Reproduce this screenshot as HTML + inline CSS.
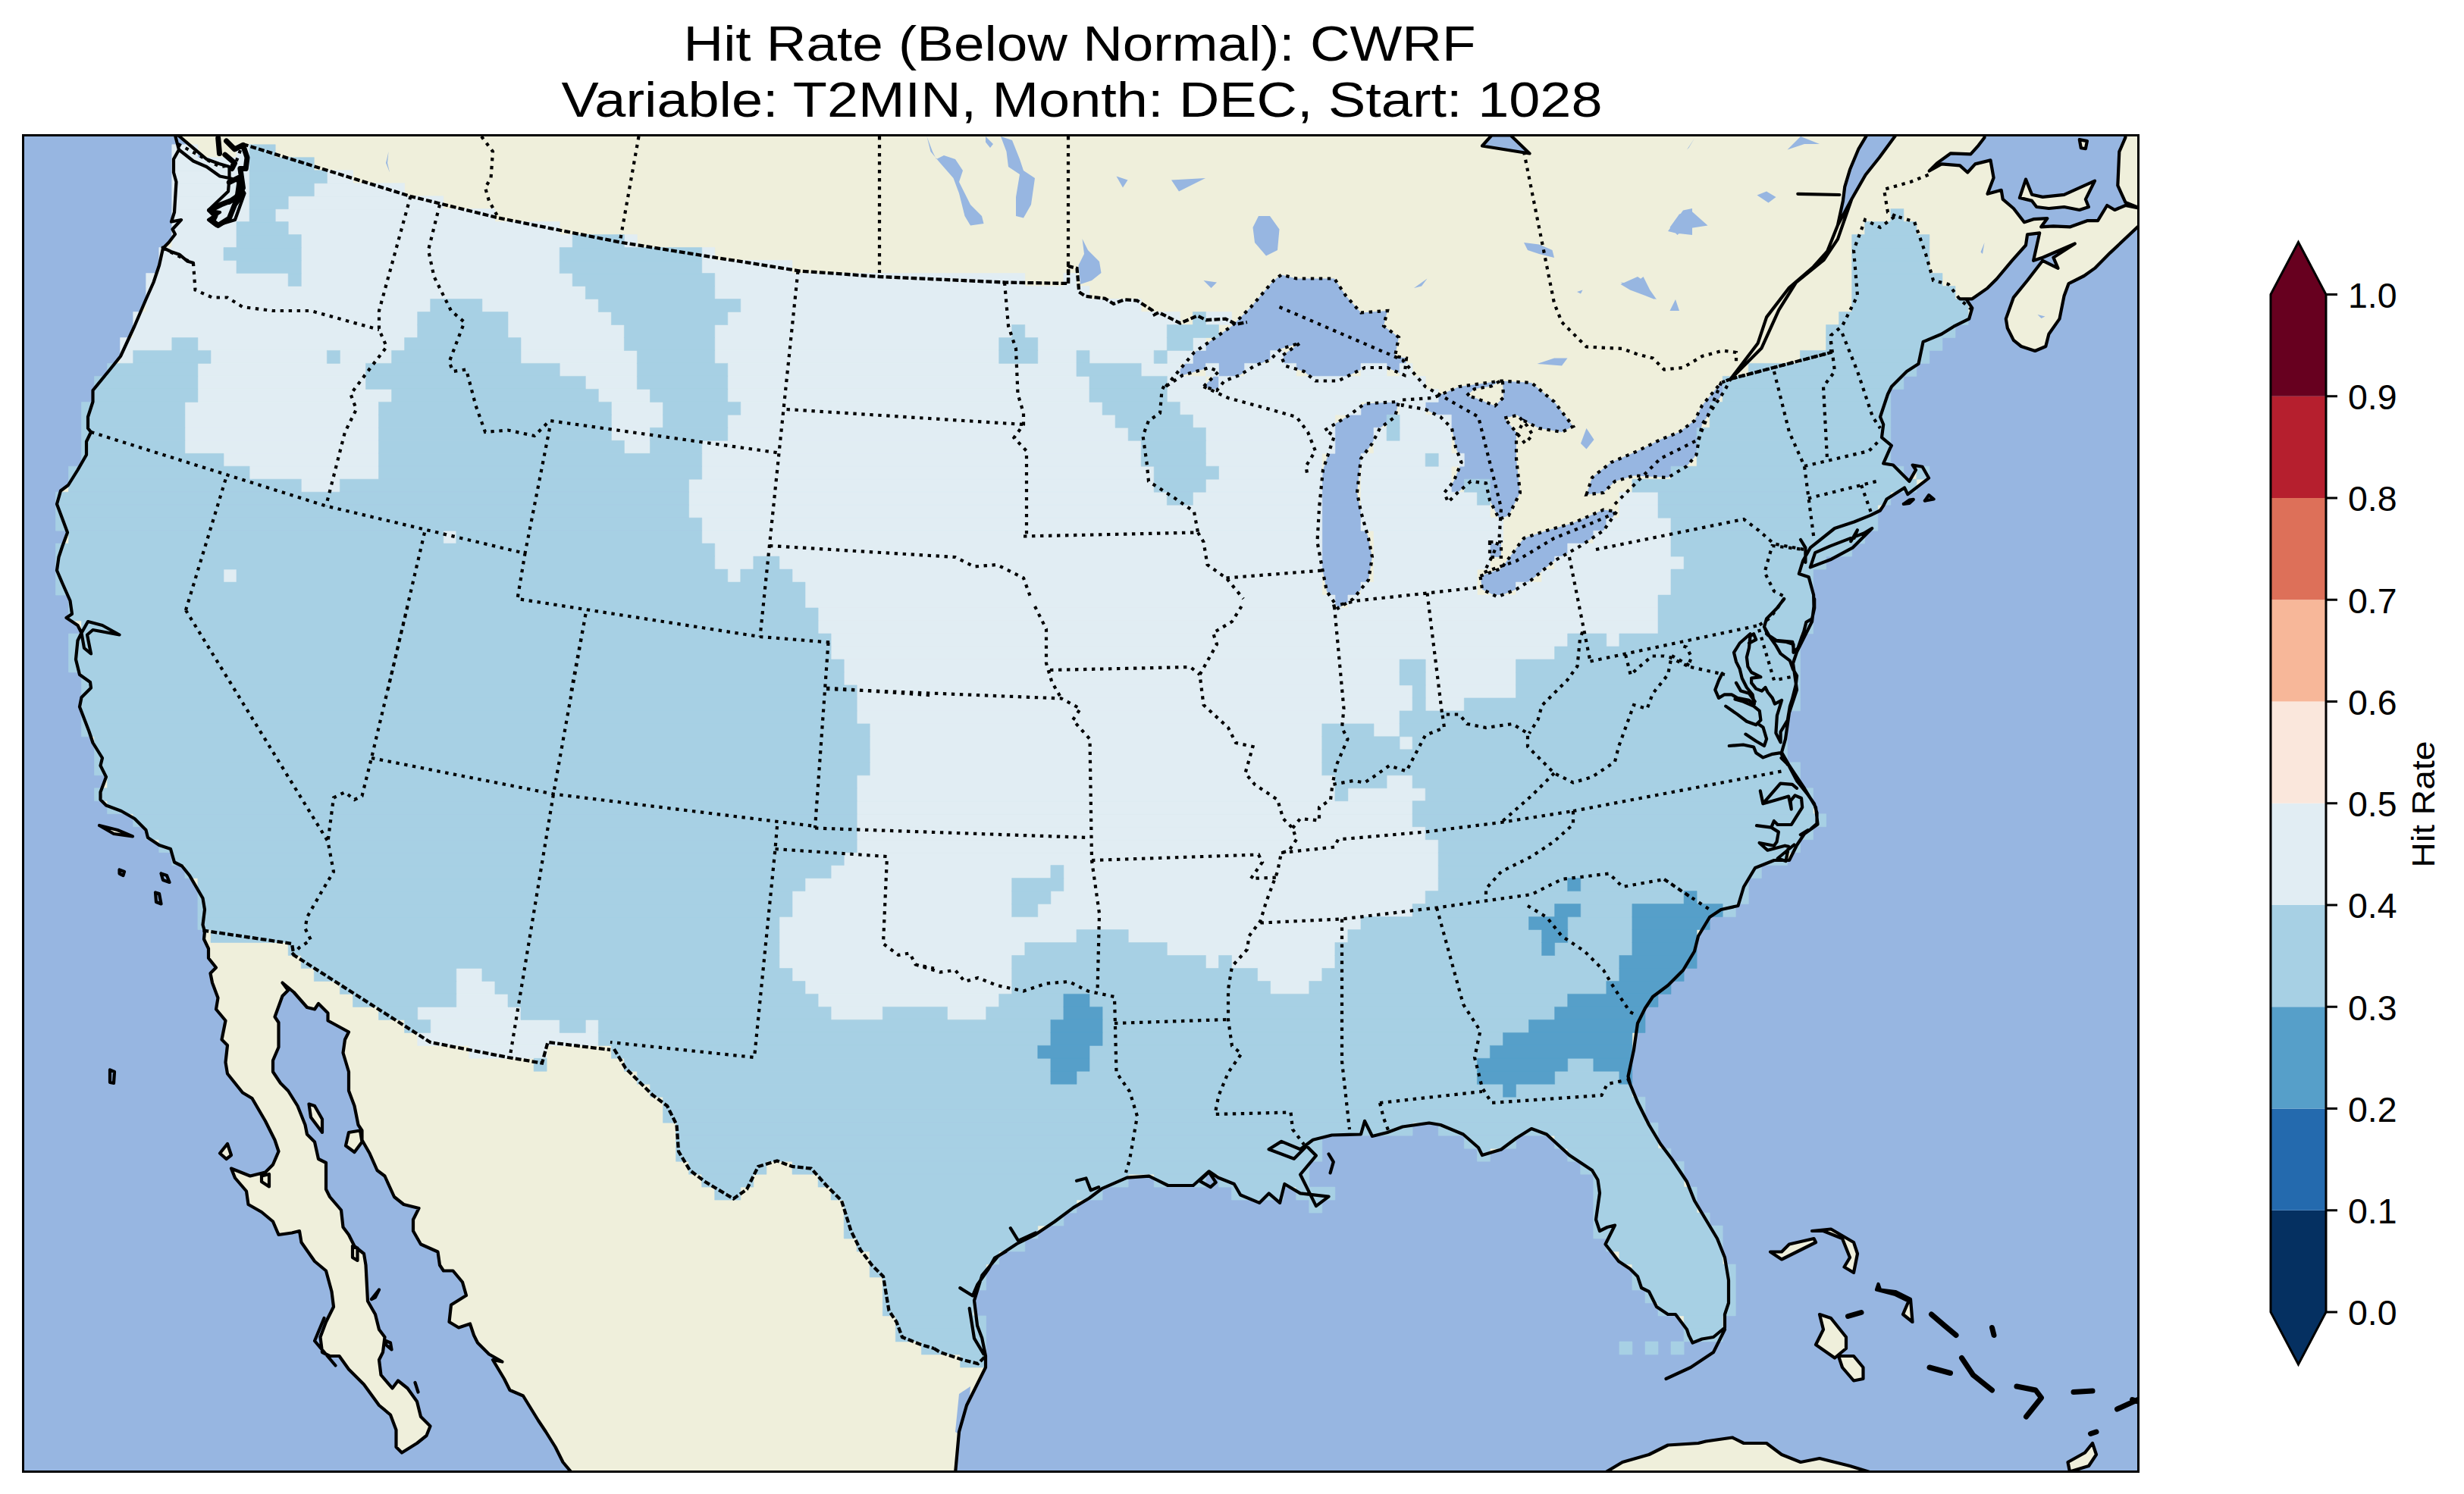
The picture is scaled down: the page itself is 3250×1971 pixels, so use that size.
<!DOCTYPE html>
<html><head><meta charset="utf-8">
<style>
html,body{margin:0;padding:0;background:#fff;width:3250px;height:1971px;overflow:hidden}
svg{position:absolute;left:0;top:0}
</style></head><body>
<svg width="3250" height="1971" viewBox="0 0 3250 1971">
<g font-family="Liberation Sans, sans-serif" fill="#000">
<text x="901.5" y="79.5" font-size="64" textLength="1045" lengthAdjust="spacingAndGlyphs">Hit Rate (Below Normal): CWRF</text>
<text x="740.5" y="154.2" font-size="64" textLength="1373" lengthAdjust="spacingAndGlyphs">Variable: T2MIN, Month: DEC, Start: 1028</text>
</g>
<rect x="30.5" y="178.5" width="2790" height="1763" fill="#97b6e1"/>
<defs><clipPath id="mc"><rect x="32" y="180" width="2787" height="1760"/></clipPath></defs>
<g clip-path="url(#mc)">
<path fill="#efefdb" d="M231,177 2822,177 2822,299 2819.6,299.3 2783.2,333.6 2763,353.9 2748.8,364 2728.6,374.1 2722.6,390.2 2716.5,420.6 2702.4,440.8 2698.3,457 2684.2,463 2666,457 2655.9,448.9 2647.8,432.7 2645.8,420.6 2655.9,392.3 2674.1,370 2694.3,343.8 2714.5,353.9 2708.4,339.7 2736.7,321.5 2694.3,339.7 2682.1,343.8 2690.2,307.4 2674.1,309.4 2672,323.5 2653.8,343.8 2633.6,368 2621.5,380.1 2601.3,394.3 2585.1,394.3 2593.2,394.3 2601.3,406.4 2597.2,420.6 2577,430.7 2560.9,440.8 2536.6,450.9 2530.5,480 2515,490 2495,510 2490,520 2480,550 2484.2,560 2482,577.1 2494.9,587.8 2492.7,592.1 2484.2,611.4 2497,613.5 2509.9,626.4 2518.4,634.9 2527,620 2522.7,613.5 2535.6,615.7 2544.1,630.7 2516.3,652.1 2512,643.5 2488.5,658.5 2484.2,667.1 2479.9,673.5 2467,679.9 2445.6,688.5 2419.9,697 2387.8,722.7 2378,740 2372.8,757 2385.7,761.3 2392.1,784.8 2392.5,800 2390,820 2380,840 2370,860 2365,875 2370,910 2360,940 2355,975 2350,992.5 2360,1010 2380,1040 2395,1065 2397.5,1087.5 2380,1100 2370,1115 2360,1135 2340,1135 2315,1145 2300,1170 2292.5,1195 2270,1200 2255,1210 2240,1235 2235,1255 2220,1280 2200,1300 2180,1315 2170,1330 2160,1350 2155,1385 2147.5,1420 2150,1430 2147.5,1424 2160,1454 2175,1484 2190,1509 2205,1529 2225,1559 2235,1584 2250,1609 2265,1634 2275,1659 2280,1689 2280,1719 2275,1734 2275,1751.5 2260,1764 2245,1766.5 2232.5,1771.5 2227.5,1761.5 2225,1754 2210,1734 2200,1734 2185,1724 2175,1704 2165,1699 2160,1684 2150,1674 2135,1664 2117.5,1641.5 2130,1616.5 2120,1619 2110,1624 2105,1609 2110,1574 2107.5,1556.5 2100,1544 2070,1524 2040,1496.5 2020,1489 2000,1501.5 1980,1516.5 1955,1524 1950,1514 1930,1496.5 1900,1484 1885,1481.5 1850,1486.5 1830,1494 1810,1499 1800,1479 1795,1496.5 1756.7,1497.5 1731.8,1503.8 1715.1,1516.3 1690.2,1505.9 1673.6,1516.3 1706.8,1528.7 1723.4,1512.1 1735.9,1524.6 1715.1,1549.5 1735.9,1591.1 1752.5,1578.6 1715.1,1574.4 1694.3,1562 1688.1,1586.9 1673.6,1574.4 1661.1,1586.9 1636.2,1576.5 1627.8,1562 1607.1,1553.7 1594.6,1545.3 1573.8,1564 1540.6,1564 1515.6,1551.6 1486.5,1553.7 1453.3,1568.2 1436.7,1580.7 1415.9,1593.1 1390.9,1611.8 1366,1628.5 1341.1,1640.9 1316.1,1657.6 1295.3,1682.5 1285,1715.8 1289.1,1749 1295.3,1765.6 1299.5,1786.4 1300,1789 1300,1804 1290,1824 1275,1854 1265,1889 1260,1944 1260,1943 755,1943 755,1944 742.5,1929 732.5,1909 720,1889 710,1874 690,1841.5 672.5,1834 665,1819 650,1794 662.5,1796.5 645,1786.5 630,1771.5 625,1761.5 620,1746.5 605,1751.5 592.5,1744 595,1721.5 615,1709 610,1691.5 597.5,1676.5 585,1676.5 580,1669 577.5,1651.5 555,1641.5 545,1624 545,1609 552.5,1594 532.5,1589 520,1579 507.5,1551.5 497.5,1544 487.5,1521.5 477.5,1504 477.5,1491.5 472.5,1484 467.5,1459 460,1439 460,1414 452.5,1389 455,1371.5 460,1361.5 432.5,1346.5 432.5,1336.5 420,1324 415,1331.5 405,1329 387.5,1309 372.5,1296.5 372.5,1296.5 380,1306.5 372.5,1314 362.5,1341.5 367.5,1349 367.5,1381.5 360,1399 360,1414 370,1429 380,1439 392.5,1459 402.5,1484 405,1496.5 415,1506.5 420,1529 430,1534 430,1569 435,1579 450,1596.5 452.5,1619 460,1629 467.5,1644 480,1654 482.5,1669 485,1716.5 495,1734 500,1754 507.5,1764 505,1784 500,1794 502.5,1814 517.5,1831.5 525,1821.5 537.5,1831.5 550,1849 555,1869 567.5,1881.5 562.5,1894 550,1904 530,1916.5 522.5,1909 522.5,1886.5 515,1866.5 500,1854 480,1826.5 460,1806.5 447.5,1789 435,1789 425,1784 422.5,1764 430,1744 440,1724 437.5,1704 430,1676.5 415,1664 397.5,1639 395,1624 385,1626.5 367.5,1629 360,1611.5 345,1599 327.5,1589 325,1571.5 310,1554 305,1541.5 330,1551.5 350,1546.5 360,1536.5 367.5,1519 362.5,1504 350,1479 332.5,1449 320,1441.5 300,1416.5 297.5,1401.5 300,1379 292.5,1371.5 297.5,1346.5 285,1331.5 287.5,1316.5 280,1296.5 277.5,1284 285,1276.5 275,1264 275,1251.5 269,1239 270,1229 267.5,1220 270,1200 267.5,1185 250,1155 240,1142.5 230,1137.5 225,1120 210,1115 195,1105 192.5,1095 177.5,1080 160,1070 140,1062.5 132.5,1055 132.5,1045 140,1025 132.5,1010 135,1000 122.5,980 117.5,965 105,932.5 107.5,920 120,907.5 119,900 105,890 100,870 102.5,845 107.5,835 102.5,825 87.5,815 95,810 92.5,792.5 82.5,770 75,752.5 77.5,735 82.5,720 89,702.5 82.5,685 75,665 80,647.5 90,640 102.5,620 114,600 114,582.5 120,570 116,565 116,550 122.5,530 122.5,515 145,487.5 159,470 177.5,430 192.5,395 202.5,372.5 210,350 215,327.5 222.5,320 231,309 227.5,302.5 239,290 226,292.5 230,280 232.5,240 229,227.5 229,210 236,197.5 231,178.5Z"/>
<path fill="#97b6e1" d="M2424,297 2430.9,265 2433.2,246.7 2440,223.8 2451.5,196.3 2465.2,173.4 2504.1,173.4 2478.9,207.8 2460.6,230.7 2442.3,262.7ZM2617.5,171.9 2803.4,171.9 2803.4,181.4 2795.3,200.2 2793.3,244.7 2803.4,266.9 2823.6,275 2803.4,271 2789.3,277 2779.2,271 2767,291.2 2752.9,291.2 2730.7,299.3 2708.4,298.3 2692.2,299.3 2700.3,288.2 2682.1,289.2 2670,293.2 2655.9,275 2641.7,262.9 2639.7,250.8 2621.5,255.8 2629.6,234.6 2625.5,211.4 2605.3,216.4 2595.2,227.5 2585.1,218.4 2560.9,216.4 2544.7,225.5 2554.8,215.4 2573,202.3 2599.3,203.3 2609.4,192.1 2617.5,181.4ZM1955,192.5 1967.5,178.5 1992.5,178.5 2017.5,202.5ZM231,178.5 235,178.5 272.5,210 289,216 302.5,220 302.5,235 290,232.5 272.5,220 255,212.5 236,197.5ZM302.5,235 312.5,237.5 322.5,255 310,290 285,297.5 275,290 290,280 275,277.5 280,272.5 301,252.5ZM107.5,835 116,820 135,825 157.5,837.5 122.5,831 115,837.5 120,862.5 111,855Z"/>
<path fill="#efefdb" d="M2663.9,260.9 2672,236.6 2680.1,256.8 2694.3,259.9 2722.6,256.8 2763,238.6 2750.9,262.9 2754.9,273 2742.8,277 2722.6,273 2702.4,275 2686.2,273 2680.1,264.9ZM2742.8,184.1 2752.9,186.1 2750.9,196.2 2744.8,195.2ZM2115,1944 2140,1929 2175,1919 2200,1906.5 2240,1904 2250,1901.5 2285,1896.5 2300,1904 2330,1904 2350,1919 2375,1929 2400,1924 2440,1934 2472.5,1944ZM2400,1734 2415,1739 2435,1764 2435,1779 2420,1791.5 2395,1774 2405,1754ZM2425,1789 2445,1789 2457.5,1804 2457.5,1819 2445,1821.5 2430,1804ZM2335,1651.5 2350,1661.5 2395,1639 2392.5,1634 2360,1641.5 2350,1651.5ZM2390,1624 2415,1621.5 2445,1639 2450,1654 2445,1679 2432.5,1671.5 2440,1659 2430,1634 2405,1624ZM2477.5,1694 2480,1701.5 2500,1704 2520,1714 2522.5,1744 2510,1734 2517.5,1716.5 2500,1708 2475,1701.5ZM2727.5,1929 2750,1916.5 2760,1904 2765,1919 2755,1934 2730,1941.5ZM131,1089 150,1100 175,1103.5 155,1095ZM290,1521.5 300,1509 305,1524 298.5,1529ZM407.5,1456.5 415,1459 425,1476.5 425,1494 410,1474ZM460,1494 475,1491.5 477.5,1506.5 467.5,1520 456,1511.5Z"/>
<path fill="#97b6e1" d="M1537.5,510 1575,465 1625,430 1650,405 1680,370 1690,362.5 1710,367.5 1760,367.5 1775,390 1795,412.5 1830,410 1825,430 1845,445 1840,470 1855,472.5 1852.5,495 1830,485 1800,485 1780,495 1765,502.5 1735,502.5 1720,490 1695,482.5 1690,470 1715,452.5 1690,460 1675,475 1655,482.5 1635,495 1615,502.5 1605,515 1587.5,510 1607.5,490 1595,485 1560,495ZM1747.5,567.5 1780,547.5 1800,532.5 1845,530 1840,550 1820,565 1810,585 1795,605 1790,650 1795,675 1805,710 1810,735 1805,765 1785,790 1765,802.5 1750,780 1745,755 1737.5,715 1740,670 1745,620 1760,575ZM1850,527.5 1890,525 1925,510 1980,502.5 2020,505 2050,530 2075,562.5 2060,570 2030,565 2010,555 2000,575 2000,605 2005,650 1990,680 1977.5,685 1965,660 1960,637.5 1940,635 1922.5,650 1910,662.5 1905,650 1917.5,635 1927.5,610 1920,590 1915,565 1900,550 1880,540 1850,535ZM1952.5,760 1980,750 2010,710 2040,700 2075,690 2115,672.5 2132.5,675 2115,700 2085,720 2050,740 2020,765 2000,777.5 1975,787.5 1955,777.5ZM1965,715 1980,715 1980,735 1965,735ZM2092.5,652.5 2100,630 2125,610 2160,595 2190,580 2215,570 2235,555 2245,535 2270,505 2282.5,500 2275,515 2245,560 2240,585 2237.5,600 2225,615 2200,630 2155,627.5 2130,635 2115,650ZM1222.5,180 1230,200 1235,210 1245,205 1260,210 1270,225 1265,240 1280,270 1295,285 1297.5,295 1280,297.5 1272.5,285 1265,255 1257.5,235 1240,215 1227.5,200ZM1320,180 1335,185 1345,210 1350,225 1365,235 1360,270 1350,287.5 1340,285 1340,260 1345,230 1330,220 1327.5,200ZM1300,180 1310,190 1306,195 1300,187.5ZM1427.5,315 1435,330 1450,345 1452.5,360 1440,370 1425,375 1422.5,350 1430,335ZM1660,285 1675,285 1687.5,302.5 1685,330 1670,337.5 1655,320 1652.5,300ZM1472.5,232.5 1487.5,237.5 1481,247.5ZM1545,237.5 1590,235 1555,252.5ZM1587.5,370 1605,372.5 1597.5,380ZM1865,380 1882.5,367.5 1875,377.5ZM2010,320 2030,322.5 2047.5,330 2050,340 2030,335 2015,330ZM2137.5,375 2160,365 2167.5,370 2185,395 2170,390 2150,382.5ZM2200,305 2220,277.5 2232,275 2232,310 2210,307.5ZM2027.5,480 2050,472.5 2067.5,472.5 2060,482.5ZM2085,585 2092.5,565 2102.5,580 2092.5,592.5ZM2317.5,257.5 2330,252.5 2342.5,260 2332.5,267.5ZM2202.5,300 2215,282.5 2230,277.5 2252.5,297.5 2220,302.5 2212.5,310ZM2137.5,372.5 2155,375 2167.5,365 2182.5,395 2170,390 2160,385ZM2202.5,410 2210,395 2215,410ZM2080,385 2087.5,382.5 2085,387.5ZM2687.5,415 2697.5,417.5 2692.5,420ZM2612.5,332.5 2617.5,320 2615,335ZM2357.5,197.5 2375,180 2400,190 2380,190ZM2225,197.5 2235,182.5 2227.5,195ZM512.5,200 509,215 514,227.5 511,215ZM1265,1839 1280,1829 1277.5,1864 1267.5,1894 1260,1889Z"/>
<path fill="#efefdb" d="M1934.8,521.8 1944.7,513.2 1967,509.4 1981.8,500.8 1983.1,524.3 1971.9,535.4 1947.2,525.5ZM1984.3,551.5 2001.7,547.8 2014,561.4 2021.5,573.8 2011.6,585 1996.7,566.4Z"/>
<path fill="#e1edf3" stroke="#e1edf3" stroke-width="0.6" d="M226.8 190.8H260.9V207.7H226.8ZM312 190.8H329.1V207.7H312ZM226.8 207.7H329.1V224.7H226.8ZM226.8 224.7H329.1V241.7H226.8ZM431.4 224.7H465.5V241.7H431.4ZM226.8 241.7H329.1V258.7H226.8ZM414.3 241.7H533.6V258.7H414.3ZM226.8 258.7H329.1V275.7H226.8ZM380.2 258.7H584.8V275.7H380.2ZM226.8 275.6H329.1V292.6H226.8ZM363.2 275.6H652.9V292.6H363.2ZM226.8 292.6H312V309.6H226.8ZM380.2 292.6H738.2V309.6H380.2ZM226.8 309.6H312V326.6H226.8ZM397.3 309.6H755.2V326.6H397.3ZM823.4 309.6H840.4V326.6H823.4ZM209.8 326.6H295V343.6H209.8ZM397.3 326.6H738.2V343.6H397.3ZM925.7 326.6H942.7V343.6H925.7ZM209.8 343.6H312V360.6H209.8ZM397.3 343.6H738.2V360.6H397.3ZM925.7 343.6H1045V360.6H925.7ZM192.7 360.6H380.2V377.5H192.7ZM397.3 360.6H755.2V377.5H397.3ZM942.7 360.6H1351.8V377.5H942.7ZM1402.9 360.6H1420V377.5H1402.9ZM192.7 377.5H772.3V394.5H192.7ZM942.7 377.5H1437V394.5H942.7ZM192.7 394.5H567.7V411.5H192.7ZM635.9 394.5H789.3V411.5H635.9ZM976.8 394.5H1505.2V411.5H976.8ZM175.7 411.5H550.7V428.5H175.7ZM670 411.5H806.4V428.5H670ZM959.8 411.5H1556.3V428.5H959.8ZM1590.4 411.5H1624.5V428.5H1590.4ZM175.7 428.5H550.7V445.5H175.7ZM670 428.5H823.4V445.5H670ZM942.7 428.5H1334.7V445.5H942.7ZM1351.8 428.5H1539.3V445.5H1351.8ZM158.6 445.5H226.8V462.4H158.6ZM260.9 445.5H533.6V462.4H260.9ZM687 445.5H823.4V462.4H687ZM942.7 445.5H1317.7V462.4H942.7ZM1368.8 445.5H1539.3V462.4H1368.8ZM1573.4 445.5H1590.4V462.4H1573.4ZM158.6 462.4H175.7V479.4H158.6ZM278 462.4H431.4V479.4H278ZM448.4 462.4H516.6V479.4H448.4ZM687 462.4H840.4V479.4H687ZM942.7 462.4H1317.7V479.4H942.7ZM1368.8 462.4H1420V479.4H1368.8ZM1437 462.4H1522.2V479.4H1437ZM1539.3 462.4H1573.4V479.4H1539.3ZM1675.6 462.4H1692.7V479.4H1675.6ZM260.9 479.4H482.5V496.4H260.9ZM738.2 479.4H840.4V496.4H738.2ZM959.8 479.4H1420V496.4H959.8ZM1505.2 479.4H1556.3V496.4H1505.2ZM1590.4 479.4H1607.5V496.4H1590.4ZM1641.6 479.4H1709.7V496.4H1641.6ZM1795 479.4H1829.1V496.4H1795ZM1846.1 479.4H1863.1V496.4H1846.1ZM260.9 496.4H482.5V513.4H260.9ZM772.3 496.4H840.4V513.4H772.3ZM959.8 496.4H1437V513.4H959.8ZM1539.3 496.4H1590.4V513.4H1539.3ZM1607.5 496.4H1880.2V513.4H1607.5ZM260.9 513.4H516.6V530.4H260.9ZM789.3 513.4H857.5V530.4H789.3ZM959.8 513.4H1437V530.4H959.8ZM1539.3 513.4H1897.2V530.4H1539.3ZM243.9 530.4H499.5V547.3H243.9ZM806.4 530.4H874.5V547.3H806.4ZM976.8 530.4H1454.1V547.3H976.8ZM1556.3 530.4H1795V547.3H1556.3ZM1846.1 530.4H1880.2V547.3H1846.1ZM243.9 547.3H499.5V564.3H243.9ZM806.4 547.3H874.5V564.3H806.4ZM959.8 547.3H1471.1V564.3H959.8ZM1573.4 547.3H1760.9V564.3H1573.4ZM1846.1 547.3H1914.3V564.3H1846.1ZM243.9 564.3H499.5V581.3H243.9ZM806.4 564.3H857.5V581.3H806.4ZM959.8 564.3H1488.2V581.3H959.8ZM1590.4 564.3H1760.9V581.3H1590.4ZM1812 564.3H1829.1V581.3H1812ZM1846.1 564.3H1914.3V581.3H1846.1ZM243.9 581.3H499.5V598.3H243.9ZM823.4 581.3H857.5V598.3H823.4ZM925.7 581.3H1505.2V598.3H925.7ZM1590.4 581.3H1760.9V598.3H1590.4ZM1812 581.3H1914.3V598.3H1812ZM295 598.3H499.5V615.2H295ZM925.7 598.3H1505.2V615.2H925.7ZM1590.4 598.3H1743.8V615.2H1590.4ZM1795 598.3H1880.2V615.2H1795ZM1897.2 598.3H1931.3V615.2H1897.2ZM329.1 615.2H499.5V632.2H329.1ZM925.7 615.2H1522.2V632.2H925.7ZM1607.5 615.2H1743.8V632.2H1607.5ZM1795 615.2H1914.3V632.2H1795ZM397.3 632.2H448.4V649.2H397.3ZM908.6 632.2H1522.2V649.2H908.6ZM1590.4 632.2H1743.8V649.2H1590.4ZM1795 632.2H1914.3V649.2H1795ZM908.6 649.2H1539.3V666.2H908.6ZM1573.4 649.2H1743.8V666.2H1573.4ZM1795 649.2H1948.4V666.2H1795ZM2135.9 649.2H2187V666.2H2135.9ZM908.6 666.2H1743.8V683.2H908.6ZM1795 666.2H1965.4V683.2H1795ZM2135.9 666.2H2187V683.2H2135.9ZM925.7 683.2H1743.8V700.2H925.7ZM1795 683.2H1982.5V700.2H1795ZM2118.8 683.2H2204V700.2H2118.8ZM584.8 700.2H601.8V717.1H584.8ZM925.7 700.2H1743.8V717.1H925.7ZM1812 700.2H1982.5V717.1H1812ZM2101.8 700.2H2204V717.1H2101.8ZM942.7 717.1H1743.8V734.1H942.7ZM1812 717.1H1965.4V734.1H1812ZM2067.7 717.1H2204V734.1H2067.7ZM942.7 734.1H993.8V751.1H942.7ZM1027.9 734.1H1743.8V751.1H1027.9ZM1812 734.1H1965.4V751.1H1812ZM2050.6 734.1H2221.1V751.1H2050.6ZM295 751.1H312V768.1H295ZM959.8 751.1H976.8V768.1H959.8ZM1045 751.1H1743.8V768.1H1045ZM1812 751.1H1948.4V768.1H1812ZM2033.6 751.1H2204V768.1H2033.6ZM1062 768.1H1743.8V785.1H1062ZM1795 768.1H1948.4V785.1H1795ZM1999.5 768.1H2204V785.1H1999.5ZM1062 785.1H1760.9V802H1062ZM1777.9 785.1H2187V802H1777.9ZM1079.1 802H2187V819H1079.1ZM1079.1 819H2187V836H1079.1ZM1096.1 836H2067.7V853H1096.1ZM2118.8 836H2135.9V853H2118.8ZM1096.1 853H2050.6V870H1096.1ZM1113.2 870H1846.1V886.9H1113.2ZM1880.2 870H1999.5V886.9H1880.2ZM1113.2 886.9H1846.1V903.9H1113.2ZM1880.2 886.9H1999.5V903.9H1880.2ZM1130.2 903.9H1863.1V920.9H1130.2ZM1880.2 903.9H1999.5V920.9H1880.2ZM1130.2 920.9H1863.1V937.9H1130.2ZM1880.2 920.9H1931.3V937.9H1880.2ZM1130.2 937.9H1846.1V954.9H1130.2ZM1147.2 954.9H1743.8V971.8H1147.2ZM1812 954.9H1846.1V971.8H1812ZM1147.2 971.8H1743.8V988.8H1147.2ZM1846.1 971.8H1863.1V988.8H1846.1ZM1147.2 988.8H1743.8V1005.8H1147.2ZM1147.2 1005.8H1743.8V1022.8H1147.2ZM1130.2 1022.8H1760.9V1039.8H1130.2ZM1829.1 1022.8H1863.1V1039.8H1829.1ZM1130.2 1039.8H1760.9V1056.7H1130.2ZM1777.9 1039.8H1880.2V1056.7H1777.9ZM1130.2 1056.7H1863.1V1073.7H1130.2ZM1130.2 1073.7H1863.1V1090.7H1130.2ZM1130.2 1090.7H1880.2V1107.7H1130.2ZM1130.2 1107.7H1897.2V1124.7H1130.2ZM1113.2 1124.7H1897.2V1141.6H1113.2ZM1096.1 1141.6H1385.9V1158.6H1096.1ZM1402.9 1141.6H1897.2V1158.6H1402.9ZM1062 1158.6H1334.7V1175.6H1062ZM1402.9 1158.6H1897.2V1175.6H1402.9ZM1045 1175.6H1334.7V1192.6H1045ZM1385.9 1175.6H1880.2V1192.6H1385.9ZM1045 1192.6H1334.7V1209.6H1045ZM1368.8 1192.6H1863.1V1209.6H1368.8ZM1027.9 1209.6H1795V1226.5H1027.9ZM1027.9 1226.5H1420V1243.5H1027.9ZM1488.2 1226.5H1777.9V1243.5H1488.2ZM1027.9 1243.5H1351.8V1260.5H1027.9ZM1539.3 1243.5H1760.9V1260.5H1539.3ZM1027.9 1260.5H1334.7V1277.5H1027.9ZM1590.4 1260.5H1607.5V1277.5H1590.4ZM1624.5 1260.5H1760.9V1277.5H1624.5ZM601.8 1277.5H635.9V1294.5H601.8ZM1045 1277.5H1334.7V1294.5H1045ZM1658.6 1277.5H1743.8V1294.5H1658.6ZM601.8 1294.5H652.9V1311.4H601.8ZM1062 1294.5H1334.7V1311.4H1062ZM1675.6 1294.5H1726.8V1311.4H1675.6ZM601.8 1311.4H670V1328.4H601.8ZM1079.1 1311.4H1317.7V1328.4H1079.1ZM550.7 1328.4H687V1345.4H550.7ZM1096.1 1328.4H1164.3V1345.4H1096.1ZM1249.5 1328.4H1300.7V1345.4H1249.5ZM567.7 1345.4H738.2V1362.4H567.7ZM772.3 1345.4H789.3V1362.4H772.3ZM550.7 1362.4H789.3V1379.4H550.7ZM618.9 1379.4H721.1V1396.3H618.9Z"/>
<path fill="#a7d0e4" stroke="#a7d0e4" stroke-width="0.6" d="M329.1 190.8H363.2V207.7H329.1ZM329.1 207.7H414.3V224.7H329.1ZM329.1 224.7H431.4V241.7H329.1ZM329.1 241.7H414.3V258.7H329.1ZM329.1 258.7H380.2V275.7H329.1ZM329.1 275.6H363.2V292.6H329.1ZM2493.8 275.6H2510.9V292.6H2493.8ZM312 292.6H380.2V309.6H312ZM2459.7 292.6H2527.9V309.6H2459.7ZM312 309.6H397.3V326.6H312ZM755.2 309.6H823.4V326.6H755.2ZM2442.7 309.6H2544.9V326.6H2442.7ZM295 326.6H397.3V343.6H295ZM738.2 326.6H925.7V343.6H738.2ZM2442.7 326.6H2544.9V343.6H2442.7ZM312 343.6H397.3V360.6H312ZM738.2 343.6H925.7V360.6H738.2ZM2442.7 343.6H2544.9V360.6H2442.7ZM380.2 360.6H397.3V377.5H380.2ZM755.2 360.6H942.7V377.5H755.2ZM2442.7 360.6H2562V377.5H2442.7ZM772.3 377.5H942.7V394.5H772.3ZM2442.7 377.5H2579V394.5H2442.7ZM567.7 394.5H635.9V411.5H567.7ZM789.3 394.5H976.8V411.5H789.3ZM2442.7 394.5H2596.1V411.5H2442.7ZM550.7 411.5H670V428.5H550.7ZM806.4 411.5H959.8V428.5H806.4ZM1573.4 411.5H1590.4V428.5H1573.4ZM2425.6 411.5H2596.1V428.5H2425.6ZM550.7 428.5H670V445.5H550.7ZM823.4 428.5H942.7V445.5H823.4ZM1334.7 428.5H1351.8V445.5H1334.7ZM1539.3 428.5H1607.5V445.5H1539.3ZM2408.6 428.5H2579V445.5H2408.6ZM226.8 445.5H260.9V462.4H226.8ZM533.6 445.5H687V462.4H533.6ZM823.4 445.5H942.7V462.4H823.4ZM1317.7 445.5H1368.8V462.4H1317.7ZM1539.3 445.5H1573.4V462.4H1539.3ZM2408.6 445.5H2562V462.4H2408.6ZM175.7 462.4H278V479.4H175.7ZM431.4 462.4H448.4V479.4H431.4ZM516.6 462.4H687V479.4H516.6ZM840.4 462.4H942.7V479.4H840.4ZM1317.7 462.4H1368.8V479.4H1317.7ZM1420 462.4H1437V479.4H1420ZM1522.2 462.4H1539.3V479.4H1522.2ZM2374.5 462.4H2544.9V479.4H2374.5ZM141.6 479.4H260.9V496.4H141.6ZM482.5 479.4H738.2V496.4H482.5ZM840.4 479.4H959.8V496.4H840.4ZM1420 479.4H1505.2V496.4H1420ZM2306.3 479.4H2527.9V496.4H2306.3ZM124.5 496.4H260.9V513.4H124.5ZM482.5 496.4H772.3V513.4H482.5ZM840.4 496.4H959.8V513.4H840.4ZM1437 496.4H1539.3V513.4H1437ZM2272.2 496.4H2510.9V513.4H2272.2ZM124.5 513.4H260.9V530.4H124.5ZM516.6 513.4H789.3V530.4H516.6ZM857.5 513.4H959.8V530.4H857.5ZM1437 513.4H1539.3V530.4H1437ZM2272.2 513.4H2493.8V530.4H2272.2ZM107.5 530.4H243.9V547.3H107.5ZM499.5 530.4H806.4V547.3H499.5ZM874.5 530.4H976.8V547.3H874.5ZM1454.1 530.4H1556.3V547.3H1454.1ZM2255.2 530.4H2493.8V547.3H2255.2ZM107.5 547.3H243.9V564.3H107.5ZM499.5 547.3H806.4V564.3H499.5ZM874.5 547.3H959.8V564.3H874.5ZM1471.1 547.3H1573.4V564.3H1471.1ZM1829.1 547.3H1846.1V564.3H1829.1ZM2255.2 547.3H2493.8V564.3H2255.2ZM107.5 564.3H243.9V581.3H107.5ZM499.5 564.3H806.4V581.3H499.5ZM857.5 564.3H959.8V581.3H857.5ZM1488.2 564.3H1590.4V581.3H1488.2ZM1829.1 564.3H1846.1V581.3H1829.1ZM2238.1 564.3H2493.8V581.3H2238.1ZM107.5 581.3H243.9V598.3H107.5ZM499.5 581.3H823.4V598.3H499.5ZM857.5 581.3H925.7V598.3H857.5ZM1505.2 581.3H1590.4V598.3H1505.2ZM2238.1 581.3H2493.8V598.3H2238.1ZM107.5 598.3H295V615.2H107.5ZM499.5 598.3H925.7V615.2H499.5ZM1505.2 598.3H1590.4V615.2H1505.2ZM1880.2 598.3H1897.2V615.2H1880.2ZM2238.1 598.3H2493.8V615.2H2238.1ZM90.5 615.2H329.1V632.2H90.5ZM499.5 615.2H925.7V632.2H499.5ZM1522.2 615.2H1607.5V632.2H1522.2ZM2204 615.2H2510.9V632.2H2204ZM2527.9 615.2H2544.9V632.2H2527.9ZM90.5 632.2H397.3V649.2H90.5ZM448.4 632.2H908.6V649.2H448.4ZM1522.2 632.2H1590.4V649.2H1522.2ZM1931.3 632.2H1965.4V649.2H1931.3ZM2152.9 632.2H2527.9V649.2H2152.9ZM73.4 649.2H908.6V666.2H73.4ZM1539.3 649.2H1573.4V666.2H1539.3ZM1948.4 649.2H1965.4V666.2H1948.4ZM2187 649.2H2493.8V666.2H2187ZM73.4 666.2H908.6V683.2H73.4ZM2187 666.2H2476.8V683.2H2187ZM73.4 683.2H925.7V700.2H73.4ZM2204 683.2H2476.8V700.2H2204ZM90.5 700.2H584.8V717.1H90.5ZM601.8 700.2H925.7V717.1H601.8ZM2204 700.2H2459.7V717.1H2204ZM73.4 717.1H942.7V734.1H73.4ZM2204 717.1H2442.7V734.1H2204ZM73.4 734.1H942.7V751.1H73.4ZM993.8 734.1H1027.9V751.1H993.8ZM2221.1 734.1H2408.6V751.1H2221.1ZM73.4 751.1H295V768.1H73.4ZM312 751.1H959.8V768.1H312ZM976.8 751.1H1045V768.1H976.8ZM2204 751.1H2391.5V768.1H2204ZM73.4 768.1H1062V785.1H73.4ZM2204 768.1H2391.5V785.1H2204ZM90.5 785.1H1062V802H90.5ZM2187 785.1H2391.5V802H2187ZM90.5 802H1079.1V819H90.5ZM2187 802H2391.5V819H2187ZM107.5 819H1079.1V836H107.5ZM2187 819H2391.5V836H2187ZM90.5 836H1096.1V853H90.5ZM2067.7 836H2118.8V853H2067.7ZM2135.9 836H2374.5V853H2135.9ZM90.5 853H1096.1V870H90.5ZM2050.6 853H2374.5V870H2050.6ZM90.5 870H1113.2V886.9H90.5ZM1846.1 870H1880.2V886.9H1846.1ZM1999.5 870H2374.5V886.9H1999.5ZM107.5 886.9H1113.2V903.9H107.5ZM1846.1 886.9H1880.2V903.9H1846.1ZM1999.5 886.9H2374.5V903.9H1999.5ZM107.5 903.9H1130.2V920.9H107.5ZM1863.1 903.9H1880.2V920.9H1863.1ZM1999.5 903.9H2374.5V920.9H1999.5ZM107.5 920.9H1130.2V937.9H107.5ZM1863.1 920.9H1880.2V937.9H1863.1ZM1931.3 920.9H2374.5V937.9H1931.3ZM107.5 937.9H1130.2V954.9H107.5ZM1846.1 937.9H2357.4V954.9H1846.1ZM107.5 954.9H1147.2V971.8H107.5ZM1743.8 954.9H1812V971.8H1743.8ZM1846.1 954.9H2357.4V971.8H1846.1ZM124.5 971.8H1147.2V988.8H124.5ZM1743.8 971.8H1846.1V988.8H1743.8ZM1863.1 971.8H2357.4V988.8H1863.1ZM124.5 988.8H1147.2V1005.8H124.5ZM1743.8 988.8H2357.4V1005.8H1743.8ZM124.5 1005.8H1147.2V1022.8H124.5ZM1743.8 1005.8H2374.5V1022.8H1743.8ZM141.6 1022.8H1130.2V1039.8H141.6ZM1760.9 1022.8H1829.1V1039.8H1760.9ZM1863.1 1022.8H2374.5V1039.8H1863.1ZM124.5 1039.8H1130.2V1056.7H124.5ZM1760.9 1039.8H1777.9V1056.7H1760.9ZM1880.2 1039.8H2391.5V1056.7H1880.2ZM141.6 1056.7H1130.2V1073.7H141.6ZM1863.1 1056.7H2391.5V1073.7H1863.1ZM175.7 1073.7H1130.2V1090.7H175.7ZM1863.1 1073.7H2408.6V1090.7H1863.1ZM192.7 1090.7H1130.2V1107.7H192.7ZM1880.2 1090.7H2391.5V1107.7H1880.2ZM209.8 1107.7H1130.2V1124.7H209.8ZM1897.2 1107.7H2374.5V1124.7H1897.2ZM226.8 1124.7H1113.2V1141.6H226.8ZM1897.2 1124.7H2357.4V1141.6H1897.2ZM243.9 1141.6H1096.1V1158.6H243.9ZM1385.9 1141.6H1402.9V1158.6H1385.9ZM1897.2 1141.6H2323.4V1158.6H1897.2ZM260.9 1158.6H1062V1175.6H260.9ZM1334.7 1158.6H1402.9V1175.6H1334.7ZM1897.2 1158.6H2067.7V1175.6H1897.2ZM2084.7 1158.6H2306.3V1175.6H2084.7ZM260.9 1175.6H1045V1192.6H260.9ZM1334.7 1175.6H1385.9V1192.6H1334.7ZM1880.2 1175.6H2221.1V1192.6H1880.2ZM2238.1 1175.6H2306.3V1192.6H2238.1ZM260.9 1192.6H1045V1209.6H260.9ZM1334.7 1192.6H1368.8V1209.6H1334.7ZM1863.1 1192.6H2050.6V1209.6H1863.1ZM2084.7 1192.6H2152.9V1209.6H2084.7ZM2272.2 1192.6H2289.3V1209.6H2272.2ZM260.9 1209.6H1027.9V1226.5H260.9ZM1795 1209.6H2016.5V1226.5H1795ZM2067.7 1209.6H2152.9V1226.5H2067.7ZM278 1226.5H1027.9V1243.5H278ZM1420 1226.5H1488.2V1243.5H1420ZM1777.9 1226.5H2033.6V1243.5H1777.9ZM2067.7 1226.5H2152.9V1243.5H2067.7ZM380.2 1243.5H1027.9V1260.5H380.2ZM1351.8 1243.5H1539.3V1260.5H1351.8ZM1760.9 1243.5H2033.6V1260.5H1760.9ZM2050.6 1243.5H2152.9V1260.5H2050.6ZM397.3 1260.5H1027.9V1277.5H397.3ZM1334.7 1260.5H1590.4V1277.5H1334.7ZM1607.5 1260.5H1624.5V1277.5H1607.5ZM1760.9 1260.5H2135.9V1277.5H1760.9ZM414.3 1277.5H601.8V1294.5H414.3ZM635.9 1277.5H1045V1294.5H635.9ZM1334.7 1277.5H1658.6V1294.5H1334.7ZM1743.8 1277.5H2135.9V1294.5H1743.8ZM448.4 1294.5H601.8V1311.4H448.4ZM652.9 1294.5H1062V1311.4H652.9ZM1334.7 1294.5H1675.6V1311.4H1334.7ZM1726.8 1294.5H2118.8V1311.4H1726.8ZM465.5 1311.4H601.8V1328.4H465.5ZM670 1311.4H1079.1V1328.4H670ZM1317.7 1311.4H1402.9V1328.4H1317.7ZM1437 1311.4H2067.7V1328.4H1437ZM499.5 1328.4H550.7V1345.4H499.5ZM687 1328.4H1096.1V1345.4H687ZM1164.3 1328.4H1249.5V1345.4H1164.3ZM1300.7 1328.4H1402.9V1345.4H1300.7ZM1454.1 1328.4H2050.6V1345.4H1454.1ZM533.6 1345.4H567.7V1362.4H533.6ZM738.2 1345.4H772.3V1362.4H738.2ZM789.3 1345.4H1385.9V1362.4H789.3ZM1454.1 1345.4H2016.5V1362.4H1454.1ZM789.3 1362.4H1385.9V1379.4H789.3ZM1454.1 1362.4H1982.5V1379.4H1454.1ZM806.4 1379.4H1368.8V1396.3H806.4ZM1437 1379.4H1965.4V1396.3H1437ZM704.1 1396.3H721.1V1413.3H704.1ZM823.4 1396.3H1385.9V1413.3H823.4ZM1437 1396.3H1948.4V1413.3H1437ZM2067.7 1396.3H2101.8V1413.3H2067.7ZM840.4 1413.3H1385.9V1430.3H840.4ZM1420 1413.3H1948.4V1430.3H1420ZM2050.6 1413.3H2135.9V1430.3H2050.6ZM857.5 1430.3H1982.5V1447.3H857.5ZM1999.5 1430.3H2152.9V1447.3H1999.5ZM874.5 1447.3H2170V1464.2H874.5ZM874.5 1464.2H2170V1481.2H874.5ZM891.6 1481.2H1863.1V1498.2H891.6ZM1897.2 1481.2H2187V1498.2H1897.2ZM891.6 1498.2H1743.8V1515.2H891.6ZM1931.3 1498.2H1999.5V1515.2H1931.3ZM2050.6 1498.2H2187V1515.2H2050.6ZM891.6 1515.2H1743.8V1532.2H891.6ZM1948.4 1515.2H1965.4V1532.2H1948.4ZM2067.7 1515.2H2204V1532.2H2067.7ZM908.6 1532.2H1010.9V1549.2H908.6ZM1045 1532.2H1726.8V1549.2H1045ZM2084.7 1532.2H2221.1V1549.2H2084.7ZM925.7 1549.2H993.8V1566.1H925.7ZM1079.1 1549.2H1488.2V1566.1H1079.1ZM1522.2 1549.2H1590.4V1566.1H1522.2ZM1607.5 1549.2H1726.8V1566.1H1607.5ZM2101.8 1549.2H2221.1V1566.1H2101.8ZM942.7 1566.1H976.8V1583.1H942.7ZM1096.1 1566.1H1454.1V1583.1H1096.1ZM1624.5 1566.1H1692.7V1583.1H1624.5ZM1709.7 1566.1H1760.9V1583.1H1709.7ZM2101.8 1566.1H2238.1V1583.1H2101.8ZM1113.2 1583.1H1420V1600.1H1113.2ZM1726.8 1583.1H1743.8V1600.1H1726.8ZM2101.8 1583.1H2238.1V1600.1H2101.8ZM1113.2 1600.1H1402.9V1617.1H1113.2ZM2101.8 1600.1H2255.2V1617.1H2101.8ZM1113.2 1617.1H1368.8V1634H1113.2ZM2101.8 1617.1H2272.2V1634H2101.8ZM1130.2 1634H1351.8V1651H1130.2ZM2118.8 1634H2272.2V1651H2118.8ZM1147.2 1651H1317.7V1668H1147.2ZM2135.9 1651H2272.2V1668H2135.9ZM1147.2 1668H1300.7V1685H1147.2ZM2152.9 1668H2289.3V1685H2152.9ZM1164.3 1685H1300.7V1702H1164.3ZM2152.9 1685H2289.3V1702H2152.9ZM1164.3 1702H1283.6V1719H1164.3ZM2170 1702H2289.3V1719H2170ZM1164.3 1719H1283.6V1735.9H1164.3ZM2187 1719H2289.3V1735.9H2187ZM1181.3 1735.9H1300.7V1752.9H1181.3ZM2221.1 1735.9H2272.2V1752.9H2221.1ZM1181.3 1752.9H1300.7V1769.9H1181.3ZM2221.1 1752.9H2272.2V1769.9H2221.1ZM1215.4 1769.9H1300.7V1786.9H1215.4ZM2135.9 1769.9H2152.9V1786.9H2135.9ZM2170 1769.9H2187V1786.9H2170ZM2204 1769.9H2221.1V1786.9H2204ZM1266.6 1786.9H1300.7V1803.9H1266.6Z"/>
<path fill="#569fc9" stroke="#569fc9" stroke-width="0.6" d="M2067.7 1158.6H2084.7V1175.6H2067.7ZM2221.1 1175.6H2238.1V1192.6H2221.1ZM2050.6 1192.6H2084.7V1209.6H2050.6ZM2152.9 1192.6H2272.2V1209.6H2152.9ZM2016.5 1209.6H2067.7V1226.5H2016.5ZM2152.9 1209.6H2255.2V1226.5H2152.9ZM2033.6 1226.5H2067.7V1243.5H2033.6ZM2152.9 1226.5H2238.1V1243.5H2152.9ZM2033.6 1243.5H2050.6V1260.5H2033.6ZM2152.9 1243.5H2238.1V1260.5H2152.9ZM2135.9 1260.5H2238.1V1277.5H2135.9ZM2135.9 1277.5H2221.1V1294.5H2135.9ZM2118.8 1294.5H2204V1311.4H2118.8ZM1402.9 1311.4H1437V1328.4H1402.9ZM2067.7 1311.4H2187V1328.4H2067.7ZM1402.9 1328.4H1454.1V1345.4H1402.9ZM2050.6 1328.4H2170V1345.4H2050.6ZM1385.9 1345.4H1454.1V1362.4H1385.9ZM2016.5 1345.4H2170V1362.4H2016.5ZM1385.9 1362.4H1454.1V1379.4H1385.9ZM1982.5 1362.4H2152.9V1379.4H1982.5ZM1368.8 1379.4H1437V1396.3H1368.8ZM1965.4 1379.4H2152.9V1396.3H1965.4ZM1385.9 1396.3H1437V1413.3H1385.9ZM1948.4 1396.3H2067.7V1413.3H1948.4ZM2101.8 1396.3H2152.9V1413.3H2101.8ZM1385.9 1413.3H1420V1430.3H1385.9ZM1948.4 1413.3H2050.6V1430.3H1948.4ZM2135.9 1413.3H2152.9V1430.3H2135.9ZM1982.5 1430.3H1999.5V1447.3H1982.5Z"/>
<path fill="none" stroke="#000" stroke-width="4.2" stroke-linejoin="round" stroke-linecap="round" d="M231,177 2822,177 2822,299 2819.6,299.3 2783.2,333.6 2763,353.9 2748.8,364 2728.6,374.1 2722.6,390.2 2716.5,420.6 2702.4,440.8 2698.3,457 2684.2,463 2666,457 2655.9,448.9 2647.8,432.7 2645.8,420.6 2655.9,392.3 2674.1,370 2694.3,343.8 2714.5,353.9 2708.4,339.7 2736.7,321.5 2694.3,339.7 2682.1,343.8 2690.2,307.4 2674.1,309.4 2672,323.5 2653.8,343.8 2633.6,368 2621.5,380.1 2601.3,394.3 2585.1,394.3 2593.2,394.3 2601.3,406.4 2597.2,420.6 2577,430.7 2560.9,440.8 2536.6,450.9 2530.5,480 2515,490 2495,510 2490,520 2480,550 2484.2,560 2482,577.1 2494.9,587.8 2492.7,592.1 2484.2,611.4 2497,613.5 2509.9,626.4 2518.4,634.9 2527,620 2522.7,613.5 2535.6,615.7 2544.1,630.7 2516.3,652.1 2512,643.5 2488.5,658.5 2484.2,667.1 2479.9,673.5 2467,679.9 2445.6,688.5 2419.9,697 2387.8,722.7 2378,740 2372.8,757 2385.7,761.3 2392.1,784.8 2392.5,800 2390,820 2380,840 2370,860 2365,875 2370,910 2360,940 2355,975 2350,992.5 2360,1010 2380,1040 2395,1065 2397.5,1087.5 2380,1100 2370,1115 2360,1135 2340,1135 2315,1145 2300,1170 2292.5,1195 2270,1200 2255,1210 2240,1235 2235,1255 2220,1280 2200,1300 2180,1315 2170,1330 2160,1350 2155,1385 2147.5,1420 2150,1430 2147.5,1424 2160,1454 2175,1484 2190,1509 2205,1529 2225,1559 2235,1584 2250,1609 2265,1634 2275,1659 2280,1689 2280,1719 2275,1734 2275,1751.5 2260,1764 2245,1766.5 2232.5,1771.5 2227.5,1761.5 2225,1754 2210,1734 2200,1734 2185,1724 2175,1704 2165,1699 2160,1684 2150,1674 2135,1664 2117.5,1641.5 2130,1616.5 2120,1619 2110,1624 2105,1609 2110,1574 2107.5,1556.5 2100,1544 2070,1524 2040,1496.5 2020,1489 2000,1501.5 1980,1516.5 1955,1524 1950,1514 1930,1496.5 1900,1484 1885,1481.5 1850,1486.5 1830,1494 1810,1499 1800,1479 1795,1496.5 1756.7,1497.5 1731.8,1503.8 1715.1,1516.3 1690.2,1505.9 1673.6,1516.3 1706.8,1528.7 1723.4,1512.1 1735.9,1524.6 1715.1,1549.5 1735.9,1591.1 1752.5,1578.6 1715.1,1574.4 1694.3,1562 1688.1,1586.9 1673.6,1574.4 1661.1,1586.9 1636.2,1576.5 1627.8,1562 1607.1,1553.7 1594.6,1545.3 1573.8,1564 1540.6,1564 1515.6,1551.6 1486.5,1553.7 1453.3,1568.2 1436.7,1580.7 1415.9,1593.1 1390.9,1611.8 1366,1628.5 1341.1,1640.9 1316.1,1657.6 1295.3,1682.5 1285,1715.8 1289.1,1749 1295.3,1765.6 1299.5,1786.4 1300,1789 1300,1804 1290,1824 1275,1854 1265,1889 1260,1944 1260,1943 755,1943 755,1944 742.5,1929 732.5,1909 720,1889 710,1874 690,1841.5 672.5,1834 665,1819 650,1794 662.5,1796.5 645,1786.5 630,1771.5 625,1761.5 620,1746.5 605,1751.5 592.5,1744 595,1721.5 615,1709 610,1691.5 597.5,1676.5 585,1676.5 580,1669 577.5,1651.5 555,1641.5 545,1624 545,1609 552.5,1594 532.5,1589 520,1579 507.5,1551.5 497.5,1544 487.5,1521.5 477.5,1504 477.5,1491.5 472.5,1484 467.5,1459 460,1439 460,1414 452.5,1389 455,1371.5 460,1361.5 432.5,1346.5 432.5,1336.5 420,1324 415,1331.5 405,1329 387.5,1309 372.5,1296.5 372.5,1296.5 380,1306.5 372.5,1314 362.5,1341.5 367.5,1349 367.5,1381.5 360,1399 360,1414 370,1429 380,1439 392.5,1459 402.5,1484 405,1496.5 415,1506.5 420,1529 430,1534 430,1569 435,1579 450,1596.5 452.5,1619 460,1629 467.5,1644 480,1654 482.5,1669 485,1716.5 495,1734 500,1754 507.5,1764 505,1784 500,1794 502.5,1814 517.5,1831.5 525,1821.5 537.5,1831.5 550,1849 555,1869 567.5,1881.5 562.5,1894 550,1904 530,1916.5 522.5,1909 522.5,1886.5 515,1866.5 500,1854 480,1826.5 460,1806.5 447.5,1789 435,1789 425,1784 422.5,1764 430,1744 440,1724 437.5,1704 430,1676.5 415,1664 397.5,1639 395,1624 385,1626.5 367.5,1629 360,1611.5 345,1599 327.5,1589 325,1571.5 310,1554 305,1541.5 330,1551.5 350,1546.5 360,1536.5 367.5,1519 362.5,1504 350,1479 332.5,1449 320,1441.5 300,1416.5 297.5,1401.5 300,1379 292.5,1371.5 297.5,1346.5 285,1331.5 287.5,1316.5 280,1296.5 277.5,1284 285,1276.5 275,1264 275,1251.5 269,1239 270,1229 267.5,1220 270,1200 267.5,1185 250,1155 240,1142.5 230,1137.5 225,1120 210,1115 195,1105 192.5,1095 177.5,1080 160,1070 140,1062.5 132.5,1055 132.5,1045 140,1025 132.5,1010 135,1000 122.5,980 117.5,965 105,932.5 107.5,920 120,907.5 119,900 105,890 100,870 102.5,845 107.5,835 102.5,825 87.5,815 95,810 92.5,792.5 82.5,770 75,752.5 77.5,735 82.5,720 89,702.5 82.5,685 75,665 80,647.5 90,640 102.5,620 114,600 114,582.5 120,570 116,565 116,550 122.5,530 122.5,515 145,487.5 159,470 177.5,430 192.5,395 202.5,372.5 210,350 215,327.5 222.5,320 231,309 227.5,302.5 239,290 226,292.5 230,280 232.5,240 229,227.5 229,210 236,197.5 231,178.5ZM2424,297 2430.9,265 2433.2,246.7 2440,223.8 2451.5,196.3 2465.2,173.4 2504.1,173.4 2478.9,207.8 2460.6,230.7 2442.3,262.7ZM2617.5,171.9 2803.4,171.9 2803.4,181.4 2795.3,200.2 2793.3,244.7 2803.4,266.9 2823.6,275 2803.4,271 2789.3,277 2779.2,271 2767,291.2 2752.9,291.2 2730.7,299.3 2708.4,298.3 2692.2,299.3 2700.3,288.2 2682.1,289.2 2670,293.2 2655.9,275 2641.7,262.9 2639.7,250.8 2621.5,255.8 2629.6,234.6 2625.5,211.4 2605.3,216.4 2595.2,227.5 2585.1,218.4 2560.9,216.4 2544.7,225.5 2554.8,215.4 2573,202.3 2599.3,203.3 2609.4,192.1 2617.5,181.4ZM1955,192.5 1967.5,178.5 1992.5,178.5 2017.5,202.5ZM231,178.5 235,178.5 272.5,210 289,216 302.5,220 302.5,235 290,232.5 272.5,220 255,212.5 236,197.5ZM302.5,235 312.5,237.5 322.5,255 310,290 285,297.5 275,290 290,280 275,277.5 280,272.5 301,252.5ZM107.5,835 116,820 135,825 157.5,837.5 122.5,831 115,837.5 120,862.5 111,855ZM2663.9,260.9 2672,236.6 2680.1,256.8 2694.3,259.9 2722.6,256.8 2763,238.6 2750.9,262.9 2754.9,273 2742.8,277 2722.6,273 2702.4,275 2686.2,273 2680.1,264.9ZM2742.8,184.1 2752.9,186.1 2750.9,196.2 2744.8,195.2ZM2115,1944 2140,1929 2175,1919 2200,1906.5 2240,1904 2250,1901.5 2285,1896.5 2300,1904 2330,1904 2350,1919 2375,1929 2400,1924 2440,1934 2472.5,1944ZM2400,1734 2415,1739 2435,1764 2435,1779 2420,1791.5 2395,1774 2405,1754ZM2425,1789 2445,1789 2457.5,1804 2457.5,1819 2445,1821.5 2430,1804ZM2335,1651.5 2350,1661.5 2395,1639 2392.5,1634 2360,1641.5 2350,1651.5ZM2390,1624 2415,1621.5 2445,1639 2450,1654 2445,1679 2432.5,1671.5 2440,1659 2430,1634 2405,1624ZM2477.5,1694 2480,1701.5 2500,1704 2520,1714 2522.5,1744 2510,1734 2517.5,1716.5 2500,1708 2475,1701.5ZM2727.5,1929 2750,1916.5 2760,1904 2765,1919 2755,1934 2730,1941.5ZM131,1089 150,1100 175,1103.5 155,1095ZM290,1521.5 300,1509 305,1524 298.5,1529ZM407.5,1456.5 415,1459 425,1476.5 425,1494 410,1474ZM460,1494 475,1491.5 477.5,1506.5 467.5,1520 456,1511.5ZM1278.7,1726.1 1285,1765.6 1297.4,1786.4M1266.3,1699.1 1282.9,1709.5 1289.1,1695 1303.7,1674.2 1312,1659.6 1326.5,1651.3M1332.8,1620.2 1343.1,1636.8 1366,1626.4M1420,1557.8 1432.5,1554.5 1438.7,1570.3 1449.1,1566.1M1582.1,1557.8 1594.6,1546.2 1603.7,1559.9 1596.7,1566.1 1582.1,1557.8M1752.5,1522.5 1758.8,1532.9 1754.6,1547.4M214.6,326.6 225.6,332 236.5,335.7 247.5,344.8 254.8,346.7M2197.5,1819 2230,1804 2260,1784 2275,1754M157.5,1147.5 164,1150 162.5,1155 157.5,1152.5 157.5,1147.5M212.5,1152.5 220,1155 223.5,1164 215,1161 212.5,1152.5M205,1177.5 210,1179 212.5,1192.5 206,1190 205,1177.5M145,1411.5 151,1414 150,1429 145,1428 145,1411.5M465,1644 471.5,1646.5 471.5,1663 465,1659 465,1644M490,1714 500,1701.5 495,1711.5 490,1714M509,1769 515,1771.5 516.5,1780.5 509,1774 509,1769M547.5,1824 551.5,1836.5M345,1551.5 355,1549 355,1565.5 345,1559 345,1551.5M427.5,1739 415,1769 442.5,1801.5M2387.8,748.4 2415.7,737.7 2443.5,722.7 2469.2,697 2458.5,703.5 2441.3,709.9 2413.5,720.6 2394.2,729.2 2387.8,748.4M2441.3,714.2 2449.9,699.2 2445.6,709.9M2510.9,664.9 2518.4,659.6 2523.8,658.9 2518.4,663.9 2510.9,664.9M2538.8,660.6 2544.1,653.1 2550.6,658.5 2538.8,660.6M2375,712 2381.4,722.7 2381.4,742M2330,836.2 2342.8,844.8 2364.3,846.9 2366.4,859.8M2371.3,255.8 2426.3,257M2282.1,500.8 2318.7,452.7 2330.1,418.4 2359.9,379.5 2391.9,352 2410.3,331.4 2424,297 2430.9,265M2282.1,500.8 2323.3,459.6 2346.2,409.2 2369,372.6 2405.7,342.8 2424,315.4 2442.3,262.7 2460.6,230.7M2393.2,790 2393.2,802.3 2390.1,816.2 2382.4,820.8 2379.3,833.1 2376.3,840.8 2371.6,854.7 2365.5,860.8 2365.5,850 2356.3,847 2342.4,845.4 2331.6,837.7 2327,827 2330.1,816.2 2337.8,808.5 2343.9,802.3 2353.2,790M2327,827 2334.7,840.8 2342.4,851.6 2348.6,862.4 2360.9,871.6 2364.7,882.4 2370.1,891.6 2368.6,903.9 2363.9,922.4 2360.9,931.6 2357.8,950.1 2353.2,957.8 2348.6,965.5 2348.6,979.4 2342.4,967.1 2343.9,944 2350.1,923.9M2350.1,923.9 2340.9,928.6 2337.8,920.9 2331.6,913.2 2328.5,907 2323.9,911.6 2316.2,908.6 2310.1,900.9 2310.1,894.7 2322.4,893.2 2310.1,887 2305.4,879.3 2303.9,867 2307,854.7 2308.5,839.3 2313.1,836.2 2316.2,843.9 2307,848.5M2308.5,836.2 2294.7,848.5 2287,860.8 2290,873.1 2294.7,882.4 2297.7,894.7 2303.9,907 2311.6,916.3 2313.9,928.6 2307,923.9 2291.6,920.9 2283.9,916.3 2274.6,916.3 2267,920.9 2262.3,910.1 2267,897.8 2271.6,888.5M2276.2,931.6 2291.6,942.4 2303.9,951.7 2316.2,956.3 2322.4,950.1 2320.8,937.8 2313.1,931.6 2299.3,925.5 2288.5,922.4M2290,900.9 2296.2,911.6 2307,914.7 2314.7,925.5M2302.4,968.6 2316.2,977.8 2327,984 2330.1,974.8 2325.5,959.4 2320.8,956.3M2280.8,984 2299.3,982.5 2313.1,985.5 2316.2,993.2 2325.5,999.4 2337.8,994.8 2348.6,993.2 2357.8,1008.6M2349.5,1000 2359.2,1009.6 2370,1030.1 2384.5,1048.2 2392.9,1060.2 2396.5,1072.3 2396.5,1086.7 2389.3,1092.8M2374.8,1101.2 2384.5,1095.2M2321.8,1043.4 2325.4,1060.2 2342.3,1055.4 2359.2,1050.6 2362.8,1067.5 2361.6,1056.6 2367.6,1049.4 2376,1053 2377.2,1065.1 2368.8,1078.3 2362.8,1088 2344.7,1088 2339.9,1083.1 2336.3,1091.6 2317,1089.2M2336.3,1091.6 2345.9,1097.6 2343.5,1110.8 2339.9,1115.7 2320.6,1112 2331.4,1121.7 2354.3,1115.7 2359.2,1116.9 2355.5,1136.1 2344.7,1132.5 2366.4,1114.5M2325.4,1060.2 2348.3,1033.7 2364,1034.9 2370,1039.8"/>
<path fill="none" stroke="#000" stroke-width="7" stroke-linejoin="round" stroke-linecap="round" d="M2547.5,1734 2565,1749 2580,1761.5M2587.5,1791.5 2602.5,1814 2627.5,1834M2545,1804 2572.5,1811.5M2660,1829 2685,1834 2692.5,1844 2672.5,1869M2735,1836.5 2760,1835M2792.5,1859 2820,1846.5M2437.5,1736.5 2455,1731.5M2627.5,1751.5 2630,1761.5M2757.5,1891.5 2765,1889M2812.5,1846.5 2820,1849M287.7,182.3 289.5,202.4M298.6,186 309.6,196.9 320.5,191.4 326,207.9 324.2,222.5 316.9,222.5M316.9,222.5 320.5,248 309.6,262.7 291.3,270 276.7,277.3 284,284.6 280.4,291.9 287.7,297.4 302.3,288.2 309.6,270 320.5,255.4M296.8,204.2 309.6,215.2 305.9,222.5M302.3,240.7 316.9,233.4 313.2,259 302.3,266.3"/>
<path fill="none" stroke="#000" stroke-width="4.2" stroke-dasharray="4.4 6.6" d="M215,327.5 250,345 255,347.5 257.5,382.5 280,392.5 300,392.5 320,405 360,410 410,410 500,435M541.5,259 500,410 500,435 510,457.5 485,490 462.5,520 470,540 455,570 430,667.5M120,570 430,667.5 692.5,730 682.5,790 1002.5,840 1095,847.5M580,270 565,330 572.5,365 595,410 612.5,425 592.5,477.5 597.5,490 615,487.5 627.5,535 640,570 670,567.5 705,575 715,565 725,555 1027.5,597.5M725,565 692.5,730M772.5,810 752.5,917M1052.5,357.5 1027.5,597.5 1002.5,840M297.5,632.5 245,805M560,702.5 510,917M635,180 650,200 647.5,235 640,247.5 645,265 657.5,287.5M842.5,180 817.5,320M1687.5,405 1850,475 1880,510 1950,550 1980,670 1977.5,710 1970,730 1957.5,755 2000,740 2050,710 2100,690 2135,675M1325,372.5 1330,430 1340,460 1342.5,520 1350,545 1350,560 1337.5,577.5 1354,595 1354,707.5M1037.5,540 1350,560M1015,720 1260,735 1285,747.5 1315,745 1350,762.5 1360,790M1350,707.5 1580,702.5 1575,675 1550,657.5 1515,635 1512.5,610 1507.5,575 1515,555 1530,545 1532.5,515 1537.5,505M1580,702.5 1587.5,715 1592.5,745 1610,757.5 1617.5,762.5 1640,790M1617.5,762.5 1745,752.5M1587.5,510 1620,525 1675,540 1710,550 1725,570 1735,595 1722.5,615 1725,630M1882.5,782.5 1902.5,945M1757.5,800 1790,792.5 1882.5,782.5 1950,775M2070,735 2097.5,872.5M1160,180 1160,360M1409,180 1409,374M2240,580 2270,505 2282.5,500 2415,465 2415,442.5 2430,430 2450,390 2447.5,360 2445,330 2460,290 2480,300 2500,285 2525,292.5 2540,335 2550,370 2570,375 2585,395 2602.5,410M2130,665 2190,605 2240,580M2340,490 2360,570 2380,615 2392.5,710M2415,450 2420,490 2405,510 2410,605M2430,440 2450,490 2470,550 2480,565M2380,615 2465,595 2480,580M2385,657.5 2455,640 2475,635M2455,640 2467.5,675M2105,725 2300,685 2320,700 2340,717.5 2380,725 2337.5,720 2327.5,755 2340,780 2355,787.5 2335,815 2320,825M2097.5,872.5 2320,825M2500,285 2490,280 2485,250 2520,240 2545,230M2010,200 2050,400 2060,425 2092.5,457.5 2140,460 2160,467.5 2180,472.5 2195,487.5 2220,485 2245,470 2272.5,462.5 2290,465 2290,480M245,805 432.5,1110 440,1150 425,1175 405,1210 402.5,1225 410,1240 395,1250 385,1260M537.5,800 490,1000 477.5,1050 467.5,1055 455,1045 440,1052.5 432.5,1110M490,1000 730,1047.5 1075,1090M772.5,810 730,1047.5 672.5,1395M1092.5,847.5 1075,1092.5M1025,1090 1022.5,1120 995,1395 805,1375M1022.5,1120 1170,1130 1165,1245 1185,1260 1200,1257.5 1207.5,1272.5 1232,1277.5M1090,907.5 1232,917.5M1075,1092.5 1435,1105M1090,909 1400,921.5 1425,935 1415,950 1437.5,975 1440,1135 1450,1205 1447.5,1310M1207.5,1272.5 1240,1282.5 1260,1280 1272.5,1295 1290,1290 1315,1300 1350,1307.5 1380,1297.5 1410,1295 1435,1307.5 1470,1315 1472.5,1415 1490,1440 1500,1472.5 1490,1530 1485,1547M1385,884 1570,880 1582.5,890M1365,800 1380,830 1380,875 1387.5,900 1400,921.5M1637.5,800 1625,820 1600,835 1605,850 1582.5,890 1587.5,930 1620,960 1630,980 1652.5,985 1642.5,1020 1655,1035 1685,1055 1692.5,1080 1705,1092.5 1710,1107.5 1700,1122.5 1690,1125 1685,1150 1670,1190 1662.5,1215 1647.5,1235 1645,1252.5 1625,1275 1620,1305 1620,1345 1625,1380 1637.5,1390 1620,1415 1607.5,1445 1602.5,1470 1702.5,1467.5 1705,1490 1720,1510M1440,1135 1660,1127.5 1665,1137.5 1650,1159 1685,1157.5M1760,800 1772.5,935 1770,960 1777.5,975 1762.5,1010 1757.5,1035 1785,1030 1800,1032.5 1815,1022.5 1832.5,1010 1855,1017.5 1880,970 1905,960 1902.5,942.5 1925,942.5 1935,955 1960,960 1995,955 2015,967.5 2015,985 2050,1020 2075,1032.5 2100,1025 2130,1005 2135,985 2155,930 2172.5,935 2180,915 2200,890 2205,865 2232,880M1705,1092.5 1715,1080 1740,1082.5 1740,1065 1755,1055 1757.5,1035M1690,1125 1760,1117.5 1765,1107.5 1880,1097.5 1980,1085 2075,1070M1662.5,1217.5 1770,1212.5 1895,1197.5 2020,1180 2060,1160 2122.5,1152.5 2140,1170 2195,1160 2232,1185M2087.2,833.7 2083.9,843.7 2080.5,878.9 2067.2,897.3 2047.1,917.4 2033.7,930.8 2028.7,949.2 2016.9,967.6M2144.1,863.8 2150.8,890.6 2159.2,882.2 2179.3,865.5 2194.4,865.5 2202.7,867.2 2226.2,878.9 2231.2,867.2 2224.5,853.8 2214.4,850.4M2050,1020 2020,1050 1980,1085M2075,1070 2075,1087.5 2050,1110 2020,1130 1980,1150 1960,1172.5 1960,1187.5M1770,1212.5 1770,1400 1780,1490M1895,1197.5 1930,1325 1952.5,1360 1945,1395 1955,1435 1967.5,1455 2112.5,1445 2120,1430 2145,1425M1820,1455 1955,1440M1820,1455 1825,1475 1832.5,1495M2015,1195 2040,1210 2060,1235 2090,1255 2115,1280 2130,1305 2150,1335 2160,1340M1470,1350 1620,1345M2075,1070 2350,1017.5M2195,1160 2255,1200M2230,880 2275,890M2320,830 2340,897.5 2365,892.5M235,190 290,220 310,217.5 320,190M1537.5,510 1575,465 1625,430 1650,405 1680,370 1690,362.5 1710,367.5 1760,367.5 1775,390 1795,412.5 1830,410 1825,430 1845,445 1840,470 1855,472.5 1852.5,495 1830,485 1800,485 1780,495 1765,502.5 1735,502.5 1720,490 1695,482.5 1690,470 1715,452.5 1690,460 1675,475 1655,482.5 1635,495 1615,502.5 1605,515 1587.5,510 1607.5,490 1595,485 1560,495ZM1747.5,567.5 1780,547.5 1800,532.5 1845,530 1840,550 1820,565 1810,585 1795,605 1790,650 1795,675 1805,710 1810,735 1805,765 1785,790 1765,802.5 1750,780 1745,755 1737.5,715 1740,670 1745,620 1760,575ZM1850,527.5 1890,525 1925,510 1980,502.5 2020,505 2050,530 2075,562.5 2060,570 2030,565 2010,555 2000,575 2000,605 2005,650 1990,680 1977.5,685 1965,660 1960,637.5 1940,635 1922.5,650 1910,662.5 1905,650 1917.5,635 1927.5,610 1920,590 1915,565 1900,550 1880,540 1850,535ZM1952.5,760 1980,750 2010,710 2040,700 2075,690 2115,672.5 2132.5,675 2115,700 2085,720 2050,740 2020,765 2000,777.5 1975,787.5 1955,777.5ZM1965,715 1980,715 1980,735 1965,735ZM2092.5,652.5 2100,630 2125,610 2160,595 2190,580 2215,570 2235,555 2245,535 2270,505 2282.5,500 2275,515 2245,560 2240,585 2237.5,600 2225,615 2200,630 2155,627.5 2130,635 2115,650ZM1934.8,521.8 1944.7,513.2 1967,509.4 1981.8,500.8 1983.1,524.3 1971.9,535.4 1947.2,525.5ZM1984.3,551.5 2001.7,547.8 2014,561.4 2021.5,573.8 2011.6,585 1996.7,566.4Z"/>
<path fill="none" stroke="#000" stroke-width="4.3" stroke-dasharray="7.8 3.2" d="M267.5,1227.5 385,1245 387.5,1260 567.5,1375 670,1395 715,1402.5 722.5,1375 805,1385M810,1384 825,1409 860,1444 880,1459 892.5,1484 895,1519 910,1544 930,1559 967.5,1581.5 985,1569 1000,1539 1025,1531.5 1045,1539 1070,1541.5 1090,1564 1110,1584 1122.5,1624 1135,1649 1150,1669 1165,1684 1170,1714 1172.5,1729 1182.5,1744 1190,1764 1215,1774 1232,1779M1232,1779 1240,1784 1270,1794 1290,1799 1300,1789M320,190 541.5,259 657.5,287.5 820,320 1055,357.5 1160,365 1325,372.5 1410,374M2282.5,500 2415,465M1409.1,374 1409.1,351.1 1420.5,354 1423.3,385.2 1431.8,390.9 1457.4,393.8 1468.8,400.9 1483,395.2 1500,396.6 1519.9,409.4 1522.7,415.1 1528.4,412.2 1556.8,426.4 1579.5,416.5 1590.9,422.2 1616.5,420.7 1630.7,427.8 1644.9,425"/>
</g>
<rect x="30.5" y="178.5" width="2790" height="1763" fill="none" stroke="#000" stroke-width="3"/>
<!-- colorbar -->
<g>
<rect x="2995" y="1596.75" width="73" height="134.25" fill="#053061"/>
<rect x="2995" y="1462.5" width="73" height="134.25" fill="#246aae"/>
<rect x="2995" y="1328.25" width="73" height="134.25" fill="#569fc9"/>
<rect x="2995" y="1194" width="73" height="134.25" fill="#a7d0e4"/>
<rect x="2995" y="1059.75" width="73" height="134.25" fill="#e1edf3"/>
<rect x="2995" y="925.5" width="73" height="134.25" fill="#fae7dc"/>
<rect x="2995" y="791.25" width="73" height="134.25" fill="#f7b799"/>
<rect x="2995" y="657" width="73" height="134.25" fill="#dd7059"/>
<rect x="2995" y="522.75" width="73" height="134.25" fill="#b61f2e"/>
<rect x="2995" y="388.5" width="73" height="134.25" fill="#67001f"/>
<polygon points="2995,390 3031.5,319.5 3068,390" fill="#67001f"/>
<polygon points="2995,1729.5 3031.5,1800 3068,1729.5" fill="#053061"/>
<polygon points="2995,388.5 3031.5,319.5 3068,388.5 3068,1731 3031.5,1800 2995,1731" fill="none" stroke="#000" stroke-width="3"/>
<g stroke="#000" stroke-width="3">
<line x1="3068" y1="388.5" x2="3083" y2="388.5"/><line x1="3068" y1="522.75" x2="3083" y2="522.75"/>
<line x1="3068" y1="657" x2="3083" y2="657"/><line x1="3068" y1="791.25" x2="3083" y2="791.25"/>
<line x1="3068" y1="925.5" x2="3083" y2="925.5"/><line x1="3068" y1="1059.75" x2="3083" y2="1059.75"/>
<line x1="3068" y1="1194" x2="3083" y2="1194"/><line x1="3068" y1="1328.25" x2="3083" y2="1328.25"/>
<line x1="3068" y1="1462.5" x2="3083" y2="1462.5"/><line x1="3068" y1="1596.75" x2="3083" y2="1596.75"/>
<line x1="3068" y1="1731" x2="3083" y2="1731"/>
</g>
<g font-family="Liberation Sans, sans-serif" font-size="46.5" fill="#000">
<text x="3097" y="405.5">1.0</text><text x="3097" y="539.5">0.9</text><text x="3097" y="673.5">0.8</text>
<text x="3097" y="808.5">0.7</text><text x="3097" y="942.5">0.6</text><text x="3097" y="1076.5">0.5</text>
<text x="3097" y="1210.5">0.4</text><text x="3097" y="1345.5">0.3</text><text x="3097" y="1479.5">0.2</text>
<text x="3097" y="1613.5">0.1</text><text x="3097" y="1747.5">0.0</text>
<text transform="translate(3211,1061) rotate(-90)" text-anchor="middle" font-size="42" textLength="167" lengthAdjust="spacingAndGlyphs">Hit Rate</text>
</g>
</g>
</svg>
</body></html>
